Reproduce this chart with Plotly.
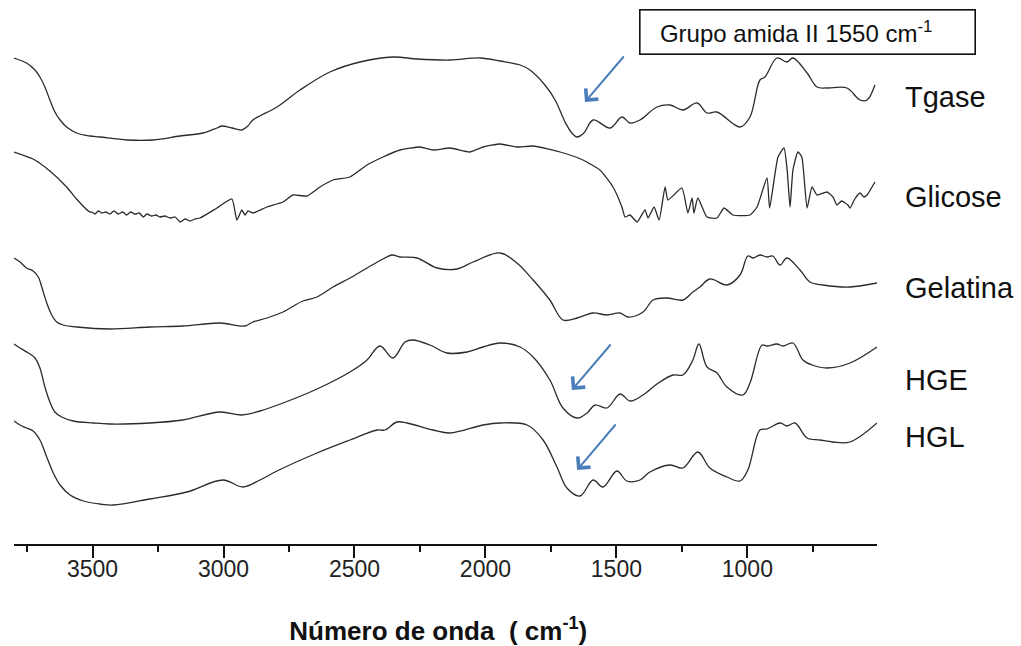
import plotly.graph_objects as go

# Wavenumbers (cm^-1) and relative transmittance (arbitrary offset units)
tgase_wn = [3800, 3752, 3720, 3701, 3682, 3663, 3644, 3624, 3599, 3561, 3510, 3472, 3369, 3269, 3166, 3078,
            3025, 3006, 2968, 2930, 2907, 2888, 2796, 2708, 2594, 2479, 2353, 2261, 2135, 2021, 1944, 1868,
            1830, 1773, 1734, 1696, 1670, 1650, 1624, 1589, 1524, 1479, 1448, 1410, 1345, 1295, 1246, 1192,
            1154, 1116, 1028, 990, 952, 933, 887, 849, 826, 772, 734, 696, 620, 570, 543, 513]
tgase_t = [486, 481, 474, 467, 457, 444, 432, 424, 417, 411, 408, 407, 404, 404, 408, 411,
           416, 418, 416, 414, 418, 424, 437, 454, 472, 482, 487, 485, 484, 486, 483, 479,
           474, 459, 444, 422, 411, 407, 411, 424, 416, 427, 421, 424, 437, 439, 434, 441,
           431, 432, 417, 427, 464, 467, 486, 482, 486, 471, 457, 456, 456, 444, 444, 459]

glicose_wn = [3800, 3727, 3663, 3599, 3561, 3529, 3510, 3503, 3491, 3478, 3465, 3449, 3434, 3418, 3402,
              3385, 3370, 3355, 3338, 3322, 3306, 3293, 3274, 3258, 3243, 3224, 3204, 3185, 3166, 3147,
              3128, 3109, 3090, 3025, 2968, 2949, 2930, 2918, 2907, 2888, 2834, 2773, 2735, 2681, 2632,
              2582, 2517, 2452, 2391, 2326, 2250, 2200, 2135, 2059, 2009, 1944, 1880, 1818, 1715, 1628,
              1563, 1513, 1479, 1467, 1448, 1421, 1391, 1379, 1356, 1337, 1314, 1303, 1250, 1227, 1211,
              1204, 1189, 1154, 1116, 1089, 1055, 990, 963, 925, 915, 883, 860, 848, 837, 826, 807, 792,
              772, 753, 734, 696, 673, 658, 640, 616, 608, 590, 570, 555, 543, 513]
glicose_t = [392, 385, 373, 357, 345, 336, 332, 332, 330, 333, 331, 332, 330, 333, 330,
             332, 329, 332, 330, 331, 327, 330, 328, 329, 327, 328, 326, 327, 322, 325,
             323, 325, 326, 336, 345, 324, 334, 329, 333, 331, 337, 342, 349, 348, 357,
             364, 367, 379, 387, 394, 397, 394, 396, 392, 397, 400, 397, 398, 392, 384,
             374, 357, 337, 327, 329, 322, 334, 326, 337, 324, 357, 344, 356, 331, 346,
             331, 346, 327, 326, 336, 329, 329, 337, 366, 336, 387, 396, 374, 337, 374, 392, 387,
             336, 357, 349, 352, 347, 339, 343, 339, 336, 345, 351, 347, 349, 362]

gelatina_wn = [3800, 3777, 3752, 3727, 3707, 3694, 3675, 3656, 3637, 3612, 3561, 3434, 3281, 3155, 3014,
               2918, 2888, 2834, 2773, 2697, 2643, 2582, 2517, 2452, 2391, 2357, 2326, 2261, 2185, 2109,
               2047, 1944, 1880, 1818, 1754, 1704, 1650, 1589, 1536, 1486, 1456, 1398, 1360, 1307, 1246,
               1208, 1181, 1143, 1078, 1028, 998, 978, 952, 925, 903, 875, 849, 799, 761, 711, 608, 505]
gelatina_t = [286, 282, 276, 273, 267, 257, 241, 229, 222, 219, 217, 215, 217, 218, 221,
              218, 222, 226, 232, 243, 247, 257, 266, 276, 285, 289, 287, 286, 276, 275,
              282, 291, 281, 264, 244, 224, 226, 231, 229, 231, 227, 232, 244, 246, 244,
              252, 257, 265, 259, 269, 288, 286, 289, 287, 288, 279, 286, 274, 262, 259, 257, 261]

hge_wn = [3800, 3777, 3745, 3720, 3701, 3682, 3663, 3644, 3618, 3574, 3497, 3434, 3281, 3155, 3014,
          2930, 2861, 2773, 2643, 2517, 2452, 2403, 2353, 2307, 2277, 2212, 2147, 2070, 2009, 1944,
          1868, 1818, 1754, 1704, 1650, 1612, 1582, 1536, 1486, 1448, 1398, 1345, 1284, 1246, 1208,
          1185, 1154, 1116, 1078, 1017, 990, 944, 925, 887, 864, 826, 788, 753, 696, 608, 505]
hge_t = [200, 196, 191, 186, 176, 157, 142, 132, 127, 123, 121, 120, 121, 124, 132,
         129, 133, 141, 155, 172, 184, 198, 186, 202, 204, 199, 191, 192, 197, 201,
         197, 187, 164, 136, 126, 131, 139, 136, 150, 143, 149, 160, 169, 169, 184,
         200, 177, 171, 157, 149, 161, 199, 198, 200, 198, 201, 184, 179, 176, 181, 197]

hgl_wn = [3800, 3777, 3752, 3727, 3701, 3675, 3650, 3624, 3586, 3535, 3472, 3421, 3281, 3140, 3002,
          2926, 2861, 2796, 2643, 2517, 2414, 2384, 2338, 2300, 2200, 2135, 2009, 1944, 1841, 1780,
          1727, 1689, 1639, 1589, 1551, 1498, 1460, 1410, 1372, 1295, 1246, 1189, 1143, 1078, 1028,
          998, 952, 925, 875, 849, 818, 772, 723, 673, 608, 505]
hgl_t = [123, 119, 116, 113, 104, 87, 71, 59, 49, 43, 40, 39, 45, 52, 64,
         57, 64, 73, 91, 104, 114, 114, 122, 121, 114, 111, 119, 121, 119, 104,
         77, 56, 48, 64, 57, 73, 63, 64, 72, 79, 76, 92, 76, 67, 63,
         74, 114, 115, 121, 118, 121, 106, 104, 102, 102, 121]

series_names = ["Tgase", "Glicose", "Gelatina", "HGE", "HGL"]
series_label_t = [447, 347, 256, 164, 107]
series_smoothing = [1.0, 0.5, 1.0, 1.0, 1.0]

major_ticks = [3500, 3000, 2500, 2000, 1500, 1000]
major_labels = ["3500", "3000", "2500", "2000", "1500", "1000"]

# arrows: tip and tail positions in data units
arrow_tips_wn = [1620, 1670, 1650]
arrow_tips_t = [442, 154, 74]
arrow_tails_wn = [1467, 1517, 1498]
arrow_tails_t = [489, 201, 121]

FONT = "Arial, Liberation Sans, sans-serif"
LINE = "#2b2b2b"

fig = go.Figure()
series = [(tgase_wn, tgase_t), (glicose_wn, glicose_t), (gelatina_wn, gelatina_t),
          (hge_wn, hge_t), (hgl_wn, hgl_t)]
for (wn, t), sm in zip(series, series_smoothing):
    fig.add_trace(go.Scatter(x=wn, y=t, mode="lines",
                             line=dict(color=LINE, width=1.3, shape="spline", smoothing=sm),
                             showlegend=False, hoverinfo="skip"))

for name, t in zip(series_names, series_label_t):
    fig.add_annotation(x=1.0, xref="paper", xshift=26, y=t, yref="y", text=name,
                       showarrow=False, xanchor="left", yanchor="middle",
                       font=dict(family=FONT, size=29, color="#111"))

for xt, yt, xa, ya in zip(arrow_tips_wn, arrow_tips_t, arrow_tails_wn, arrow_tails_t):
    fig.add_annotation(x=xt, y=yt, ax=xa, ay=ya, xref="x", yref="y", axref="x", ayref="y",
                       text="", showarrow=True, arrowhead=4, arrowsize=1.6, arrowwidth=2,
                       arrowcolor="#4a7ebb")

fig.add_annotation(x=1.0, xref="paper", xshift=-238, y=1.0, yref="paper", yshift=-9,
                   text="&nbsp;&nbsp;Grupo amida II 1550 cm<sup>-1</sup>", showarrow=False,
                   xanchor="left", yanchor="top", align="left",
                   font=dict(family=FONT, size=24, color="#111"),
                   bordercolor="#111", borderwidth=1.6, borderpad=6, bgcolor="white",
                   width=322, height=31)

fig.update_layout(
    width=1021, height=646,
    margin=dict(l=14, r=144, t=0, b=102),
    paper_bgcolor="white", plot_bgcolor="white",
    xaxis=dict(range=[3800, 505], showgrid=False, zeroline=False,
               showline=True, linecolor="#111", linewidth=2,
               ticks="outside", ticklen=12, tickwidth=2, tickcolor="#111",
               tickvals=major_ticks, ticktext=major_labels,
               ticklabelstandoff=-9,
               tickfont=dict(family=FONT, size=23, color="#222"),
               minor=dict(dtick=250, tick0=0, ticks="outside", ticklen=6, tickwidth=2, tickcolor="#111"),
               title=dict(text="<b>Número de onda&nbsp;&nbsp;( cm<sup>-1</sup>)&nbsp;&nbsp;</b>",
                          font=dict(family=FONT, size=26, color="#111"), standoff=42)),
    yaxis=dict(range=[0, 544], visible=False),
)

fig.write_html("out.html")
